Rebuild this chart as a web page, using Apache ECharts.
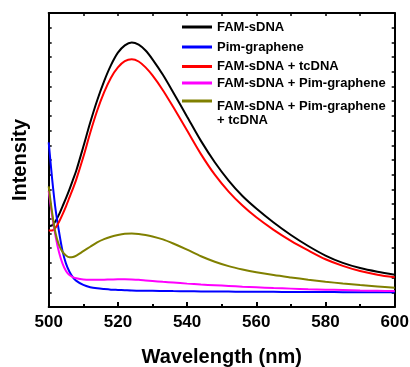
<!DOCTYPE html>
<html>
<head>
<meta charset="utf-8">
<script src="https://cdn.jsdelivr.net/npm/echarts@6/dist/echarts.min.js"></script>
<style>
  html, body { margin: 0; padding: 0; background: #fff; }
  #chart { width: 410px; height: 367px; }
</style>
</head>
<body>
<div id="chart"></div>
<script>
// wavelength (nm) sample points shared by every spectrum
const wavelength = [500, 501, 502, 503, 504, 505, 506, 507, 508, 510, 512, 514, 516, 518, 520, 522, 524, 526, 528, 530,
  533, 536, 540, 544, 548, 552, 556, 560, 565, 570, 575, 580, 585, 590, 595, 600];

const famSdna = [5.5, 5.55, 5.85, 6.3, 6.85, 7.4, 8.0, 8.65, 9.3, 10.9, 12.55, 14.05, 15.35, 16.45, 17.3, 17.8, 18.0, 17.85, 17.45, 16.85,
  15.8, 14.6, 12.95, 11.3, 9.85, 8.6, 7.55, 6.7, 5.75, 4.9, 4.15, 3.5, 3.0, 2.65, 2.4, 2.2];
const pimGraphene = [11.2, 8.7, 6.6, 5.1, 3.8, 2.95, 2.4, 2.02, 1.78, 1.5, 1.35, 1.27, 1.22, 1.18, 1.16, 1.14, 1.12, 1.11, 1.1, 1.1,
  1.09, 1.08, 1.07, 1.06, 1.05, 1.05, 1.04, 1.04, 1.03, 1.02, 1.02, 1.02, 1.01, 1.01, 1.0, 1.0];
const famTcdna = [5.2, 5.2, 5.4, 5.8, 6.3, 6.85, 7.45, 8.05, 8.7, 10.2, 11.85, 13.35, 14.6, 15.6, 16.3, 16.72, 16.85, 16.7, 16.3, 15.75,
  14.75, 13.6, 12.0, 10.4, 9.0, 7.85, 6.9, 6.1, 5.25, 4.5, 3.85, 3.25, 2.8, 2.45, 2.2, 2.02];
const famPim = [7.9, 6.2, 4.8, 3.7, 2.95, 2.45, 2.17, 2.03, 1.95, 1.87, 1.85, 1.85, 1.86, 1.87, 1.88, 1.88, 1.87, 1.85, 1.81, 1.77,
  1.71, 1.66, 1.59, 1.53, 1.48, 1.43, 1.38, 1.34, 1.29, 1.25, 1.21, 1.18, 1.15, 1.12, 1.1, 1.08];
const famPimTcdna = [8.2, 6.4, 5.0, 4.2, 3.75, 3.5, 3.38, 3.4, 3.5, 3.8, 4.1, 4.4, 4.62, 4.78, 4.9, 4.98, 5.0, 4.97, 4.9, 4.8,
  4.6, 4.32, 3.9, 3.45, 3.08, 2.78, 2.55, 2.36, 2.17, 2.01, 1.86, 1.72, 1.6, 1.49, 1.4, 1.31];

const names = ["FAM-sDNA", "Pim-graphene", "FAM-sDNA + tcDNA", "FAM-sDNA + Pim-graphene", "FAM-sDNA + Pim-graphene + tcDNA"];
const colors = ["#000000", "#0000ff", "#ff0000", "#ff00ff", "#808000"];
const values = [famSdna, pimGraphene, famTcdna, famPim, famPimTcdna];

const FONT = "'Liberation Sans', Arial, sans-serif";
const legendTops = [20, 40, 59.5, 76, 75];

const chart = echarts.init(document.getElementById("chart"), null, { renderer: "canvas" });

const axisLine = { show: true, onZero: false, lineStyle: { color: "#000", width: 2 } };
const legendText = { fontFamily: FONT, fontWeight: "bold", fontSize: 13, lineHeight: 14, color: "#000" };

chart.setOption({
  animation: false,
  backgroundColor: "#fff",
  grid: { left: 48.7, right: 15.3, top: 13, bottom: 60, outerBoundsMode: "none" },
  legend: names.map((n, i) => ({
    data: [n],
    left: 182,
    top: legendTops[i],
    padding: 0,
    icon: "rect",
    itemWidth: 30,
    itemHeight: 3,
    selectedMode: false,
    // last entry wraps to two lines, hanging below its line sample
    formatter: (name) => (i === 4 ? "{s| }\n{a|FAM-sDNA + Pim-graphene}\n{a|+ tcDNA}" : name),
    textStyle: Object.assign({}, legendText, {
      rich: { s: { lineHeight: 24, fontSize: 1 }, a: legendText },
    }),
  })),
  xAxis: [
    {
      type: "value",
      min: 500,
      max: 600,
      interval: 20,
      name: "Wavelength (nm)",
      nameLocation: "middle",
      nameGap: 40,
      nameTextStyle: { fontFamily: FONT, fontWeight: "bold", fontSize: 20, color: "#000" },
      axisLine,
      axisTick: { show: true, inside: true, length: 5, lineStyle: { color: "#000", width: 2 } },
      minorTick: { show: true, splitNumber: 2, length: 3, lineStyle: { color: "#000", width: 2 } },
      axisLabel: { fontFamily: FONT, fontWeight: "bold", fontSize: 17, color: "#000", margin: 7 },
      splitLine: { show: false },
    },
    {
      type: "value",
      position: "top",
      min: 500,
      max: 600,
      interval: 10,
      axisLine,
      axisTick: { show: true, inside: true, length: 3, lineStyle: { color: "#000", width: 1.5 } },
      axisLabel: { show: false },
      splitLine: { show: false },
    },
  ],
  yAxis: [
    {
      type: "value",
      min: 0,
      max: 20,
      interval: 1,
      name: "Intensity",
      nameLocation: "middle",
      nameGap: 18,
      nameTextStyle: { fontFamily: FONT, fontWeight: "bold", fontSize: 20, color: "#000" },
      axisLine,
      axisTick: { show: true, inside: true, length: 3, lineStyle: { color: "#000", width: 1.5 } },
      axisLabel: { show: false },
      splitLine: { show: false },
    },
    {
      type: "value",
      position: "right",
      min: 0,
      max: 20,
      interval: 1,
      axisLine,
      axisTick: { show: true, inside: true, length: 3, lineStyle: { color: "#000", width: 1.5 } },
      axisLabel: { show: false },
      splitLine: { show: false },
    },
  ],
  series: names.map((n, i) => ({
    name: n,
    type: "line",
    showSymbol: false,
    symbol: "none",
    smooth: 0.3,
    color: colors[i],
    lineStyle: { color: colors[i], width: 2 },
    data: wavelength.map((w, k) => [w, values[i][k]]),
  })),
});
</script>
</body>
</html>
